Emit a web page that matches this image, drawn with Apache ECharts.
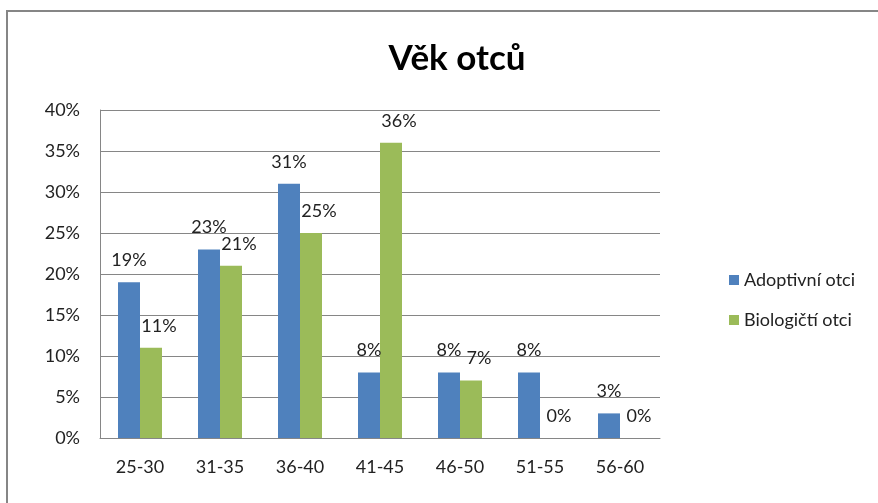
<!DOCTYPE html>
<html>
<head>
<meta charset="utf-8">
<script src="https://cdn.jsdelivr.net/npm/echarts@6/dist/echarts.min.js"></script>
<style>
  html, body { margin: 0; padding: 0; background: #fff; }
  #chart { width: 878px; height: 503px; }
</style>
</head>
<body>
<div id="chart"></div>
<script>
const categories = ['25-30', '31-35', '36-40', '41-45', '46-50', '51-55', '56-60']
const adoptivni = [19, 23, 31, 8, 8, 8, 3]
const biologicti = [11, 21, 25, 36, 7, 0, 0]
const seriesNames = ['Adoptivní otci', 'Biologičtí otci']

const chart = echarts.init(document.getElementById('chart'))
const font = 'Lato, "Open Sans", sans-serif'

// label style shared by both series, green one is nudged right like in excel
const makeLabel = dx => ({
  show: true,
  position: 'top',
  distance: 13,
  offset: [dx, 0],
  formatter: p => p.value + '%',
  color: '#222',
  fontSize: 18,
  fontFamily: font
})

chart.setOption({
  animation: false,
  graphic: [{
    type: 'rect',
    shape: { x: 7, y: 11, width: 900, height: 520 },
    style: { fill: 'none', stroke: '#868686', lineWidth: 2 }
  }],
  title: {
    text: 'Věk otců',
    left: 452,
    top: 36,
    textAlign: 'center',
    textStyle: { fontSize: 35, fontWeight: 'bold', color: '#000', fontFamily: font }
  },
  legend: {
    orient: 'vertical',
    left: 724,
    top: 266,
    itemWidth: 10,
    itemHeight: 10,
    itemGap: 22,
    icon: 'rect',
    textStyle: { fontSize: 18, color: '#222', fontFamily: font },
    data: seriesNames
  },
  grid: { left: 100, right: 218, top: 110, bottom: 65 },
  xAxis: {
    type: 'category',
    data: categories,
    axisLine: { lineStyle: { color: '#868686' } },
    axisTick: { show: false },
    axisLabel: { color: '#222', fontSize: 18, fontFamily: font, margin: 20 }
  },
  yAxis: {
    type: 'value',
    min: 0,
    max: 40,
    interval: 5,
    axisLine: { show: true, lineStyle: { color: '#868686' } },
    axisTick: { show: false },
    splitLine: { lineStyle: { color: '#868686' } },
    axisLabel: { color: '#222', fontSize: 18, fontFamily: font, margin: 20, formatter: '{value}%' }
  },
  series: [
    {
      name: seriesNames[0],
      type: 'bar',
      data: adoptivni,
      barGap: '0%',
      barCategoryGap: '45%',
      itemStyle: { color: '#4F81BD' },
      label: makeLabel(0)
    },
    {
      name: seriesNames[1],
      type: 'bar',
      data: biologicti,
      itemStyle: { color: '#9BBB59' },
      label: makeLabel(8)
    }
  ]
})
</script>
</body>
</html>
